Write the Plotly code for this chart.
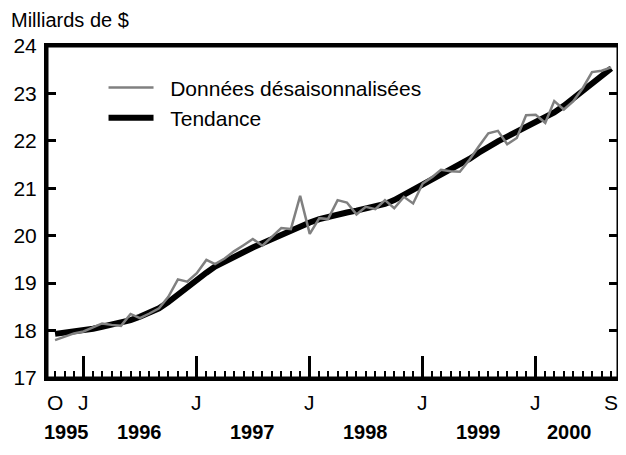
import plotly.graph_objects as go
import pandas as pd

months = pd.date_range("1995-10-01", "2000-09-01", freq="MS")

donnees = [17.80, 17.87, 17.94, 17.98, 18.07, 18.15, 18.12, 18.10, 18.35, 18.26,
           18.36, 18.47, 18.71, 19.08, 19.03, 19.21, 19.49, 19.40, 19.52, 19.67,
           19.80, 19.93, 19.79, 19.98, 20.16, 20.14, 20.84, 20.04, 20.37, 20.35,
           20.75, 20.70, 20.45, 20.61, 20.56, 20.75, 20.58, 20.82, 20.68, 21.10,
           21.24, 21.39, 21.36, 21.35, 21.60, 21.88, 22.16, 22.21, 21.93, 22.06,
           22.54, 22.55, 22.38, 22.84, 22.66, 22.83, 23.11, 23.45, 23.48, 23.55]

tendance = [17.93, 17.95, 17.97, 18.00, 18.04, 18.08, 18.12, 18.16, 18.22, 18.29,
            18.37, 18.47, 18.60, 18.76, 18.93, 19.08, 19.22, 19.35, 19.46, 19.56,
            19.66, 19.75, 19.84, 19.93, 20.04, 20.13, 20.21, 20.28, 20.35, 20.40,
            20.45, 20.49, 20.53, 20.57, 20.61, 20.67, 20.75, 20.86, 20.98, 21.09,
            21.19, 21.29, 21.39, 21.50, 21.62, 21.75, 21.88, 21.99, 22.09, 22.19,
            22.28, 22.38, 22.48, 22.60, 22.74, 22.90, 23.07, 23.23, 23.38, 23.53]

y_ticks = [17, 18, 19, 20, 21, 22, 23, 24]
jan_ticks = ["1996-01-01", "1997-01-01", "1998-01-01", "1999-01-01", "2000-01-01"]

month_labels = ["O", "J", "J", "J", "J", "J", "S"]
month_label_dates = ["1995-10-01", "1996-01-01", "1997-01-01", "1998-01-01",
                     "1999-01-01", "2000-01-01", "2000-09-01"]
year_labels = ["1995", "1996", "1997", "1998", "1999", "2000"]
year_label_dates = ["1995-11-06", "1996-07-01", "1997-07-01", "1998-07-01",
                    "1999-07-01", "2000-04-20"]

FONT = "Liberation Sans, Arial, sans-serif"
PAD = "\u00a0\u00a0"

fig = go.Figure()
fig.add_trace(go.Scatter(x=months, y=tendance, mode="lines", name=PAD + "Tendance",
                         line=dict(color="black", width=6), legendrank=2))
fig.add_trace(go.Scatter(x=months, y=donnees, mode="lines",
                         name=PAD + "Données désaisonnalisées",
                         line=dict(color="#808080", width=2.5), legendrank=1))

fig.update_layout(
    width=626, height=455,
    margin=dict(l=39, r=16, t=38, b=85, autoexpand=False),
    paper_bgcolor="white", plot_bgcolor="white",
    font=dict(family=FONT, size=21, color="black"),
    showlegend=True,
    legend=dict(x=0.099, y=0.936, xanchor="left", yanchor="top",
                bgcolor="rgba(0,0,0,0)", font=dict(size=21), itemwidth=45),
)

fig.update_xaxes(
    type="date", range=["1995-09-05", "2000-09-23"], automargin=False,
    showgrid=False, zeroline=False,
    showline=True, linewidth=3, linecolor="black", mirror=True,
    tickmode="array", tickvals=jan_ticks, ticks="inside", ticklen=22,
    tickwidth=3, tickcolor="black", showticklabels=False,
    minor=dict(ticks="inside", ticklen=7, tickwidth=2, tickcolor="black",
               dtick="M1", tick0="1995-10-01", showgrid=False),
)
fig.update_yaxes(
    range=[17, 24], tickvals=y_ticks, automargin=False,
    showgrid=False, zeroline=False,
    showline=True, linewidth=3, linecolor="black", mirror="ticks",
    ticks="inside", ticklen=9, tickwidth=3, tickcolor="black",
    tickfont=dict(size=21), ticklabelstandoff=3,
)

fig.add_shape(type="rect", xref="paper", yref="paper", x0=0, y0=0, x1=1, y1=1,
              line=dict(color="black", width=3), fillcolor="rgba(0,0,0,0)",
              layer="above")

annotations = []
for lab, d in zip(month_labels, month_label_dates):
    annotations.append(dict(x=d, y=0, xref="x", yref="paper", text=lab,
                            showarrow=False, yshift=-24, yanchor="middle",
                            font=dict(size=21)))
for lab, d in zip(year_labels, year_label_dates):
    annotations.append(dict(x=d, y=0, xref="x", yref="paper",
                            text="<b>" + lab + "</b>",
                            showarrow=False, yshift=-54, yanchor="middle",
                            font=dict(size=20)))
annotations.append(dict(x=0, y=1, xref="paper", yref="paper",
                        text="Milliards de $", showarrow=False,
                        xanchor="left", yanchor="middle", xshift=-38, yshift=26,
                        font=dict(size=20)))
fig.update_layout(annotations=annotations)

fig.write_html("out.html")
